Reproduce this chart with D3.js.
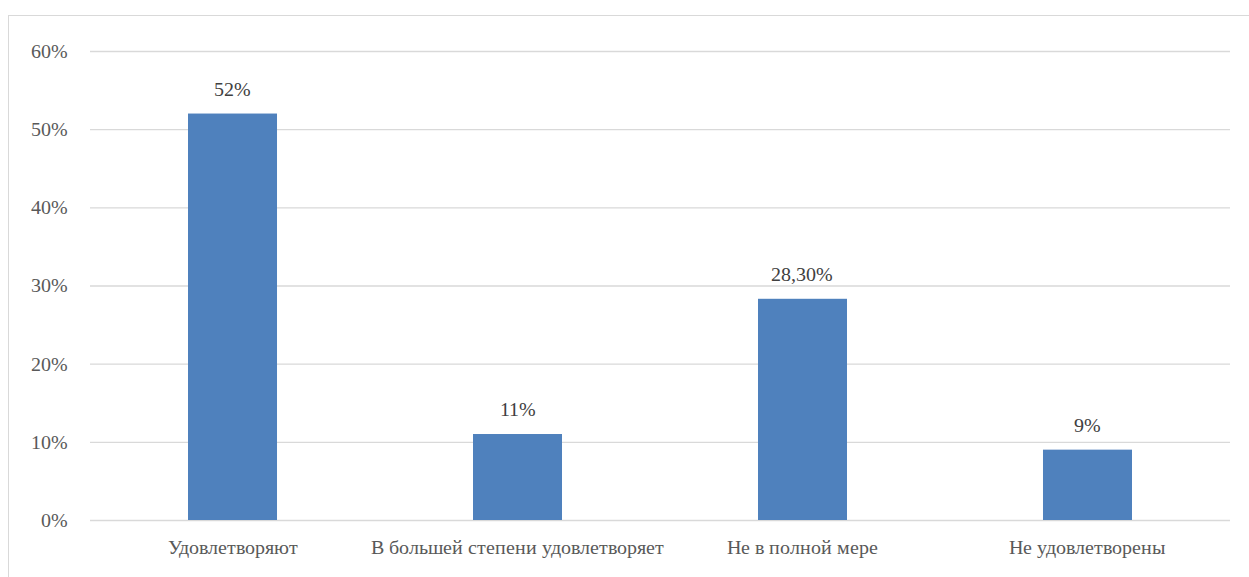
<!DOCTYPE html>
<html><head><meta charset="utf-8">
<script src="https://cdn.jsdelivr.net/npm/d3@7"></script>
<style>@font-face{font-family:"ChartSerif";src:local("Liberation Serif"),local("LiberationSerif"),local("Liberation Serif Regular"),local("LiberationSerif-Regular");}
body{margin:0;background:#fff;font-family:"Liberation Serif",serif}svg{display:block}</style>
</head><body><svg id="c" width="1249" height="577" style="font-family:ChartSerif,'Liberation Serif',serif"></svg>
<script>
const categories = ["Удовлетворяют","В большей степени удовлетворяет","Не в полной мере","Не удовлетворены"];
const values = [0.52, 0.11, 0.283, 0.09];
const valueLabels = ["52%","11%","28,30%","9%"];
const yTicks = [0,0.1,0.2,0.3,0.4,0.5,0.6];
const FONT = "ChartSerif, 'Liberation Serif', serif";
const svg = d3.select("#c");
svg.append("rect").attr("x",8.5).attr("y",15.5).attr("width",1260).attr("height",600).attr("fill","none").attr("stroke","#d9d9d9");
const x = d3.scaleBand().domain(categories).range([90,1230]).paddingInner(0.6877).paddingOuter(0.3439);
const y = d3.scaleLinear().domain([0,0.6]).range([520,51]);
const ya = svg.append("g").attr("transform","translate(90,0)").call(d3.axisLeft(y).tickValues(yTicks).tickFormat(d3.format(".0%")).tickSize(-1140).tickPadding(22));
ya.select(".domain").remove();
ya.attr("font-family",null).attr("font-size",20);
ya.selectAll(".tick line").attr("stroke","#d9d9d9").attr("stroke-width",1.3);
ya.selectAll(".tick text").attr("fill","#595959").style("font-family",FONT).attr("font-size",20);
svg.selectAll(".bar").data(values).enter().append("rect").attr("class","bar")
 .attr("x",(d,i)=>x(categories[i])).attr("width",x.bandwidth())
 .attr("y",d=>y(d)).attr("height",d=>y(0)-y(d)).attr("fill","#4f81bd");
svg.selectAll(".vl").data(values).enter().append("text")
 .attr("x",(d,i)=>x(categories[i])+x.bandwidth()/2).attr("y",d=>y(d)-18)
 .attr("text-anchor","middle").attr("fill","#404040").style("font-family",FONT).attr("font-size",20).text((d,i)=>valueLabels[i]);
const xa = svg.append("g").attr("transform","translate(0,520)").call(d3.axisBottom(x).tickSize(0).tickPadding(20));
xa.select(".domain").remove();
xa.attr("font-family",null).attr("font-size",20);
xa.selectAll(".tick text").attr("fill","#595959").style("font-family",FONT).attr("font-size",20);
</script></body></html>
